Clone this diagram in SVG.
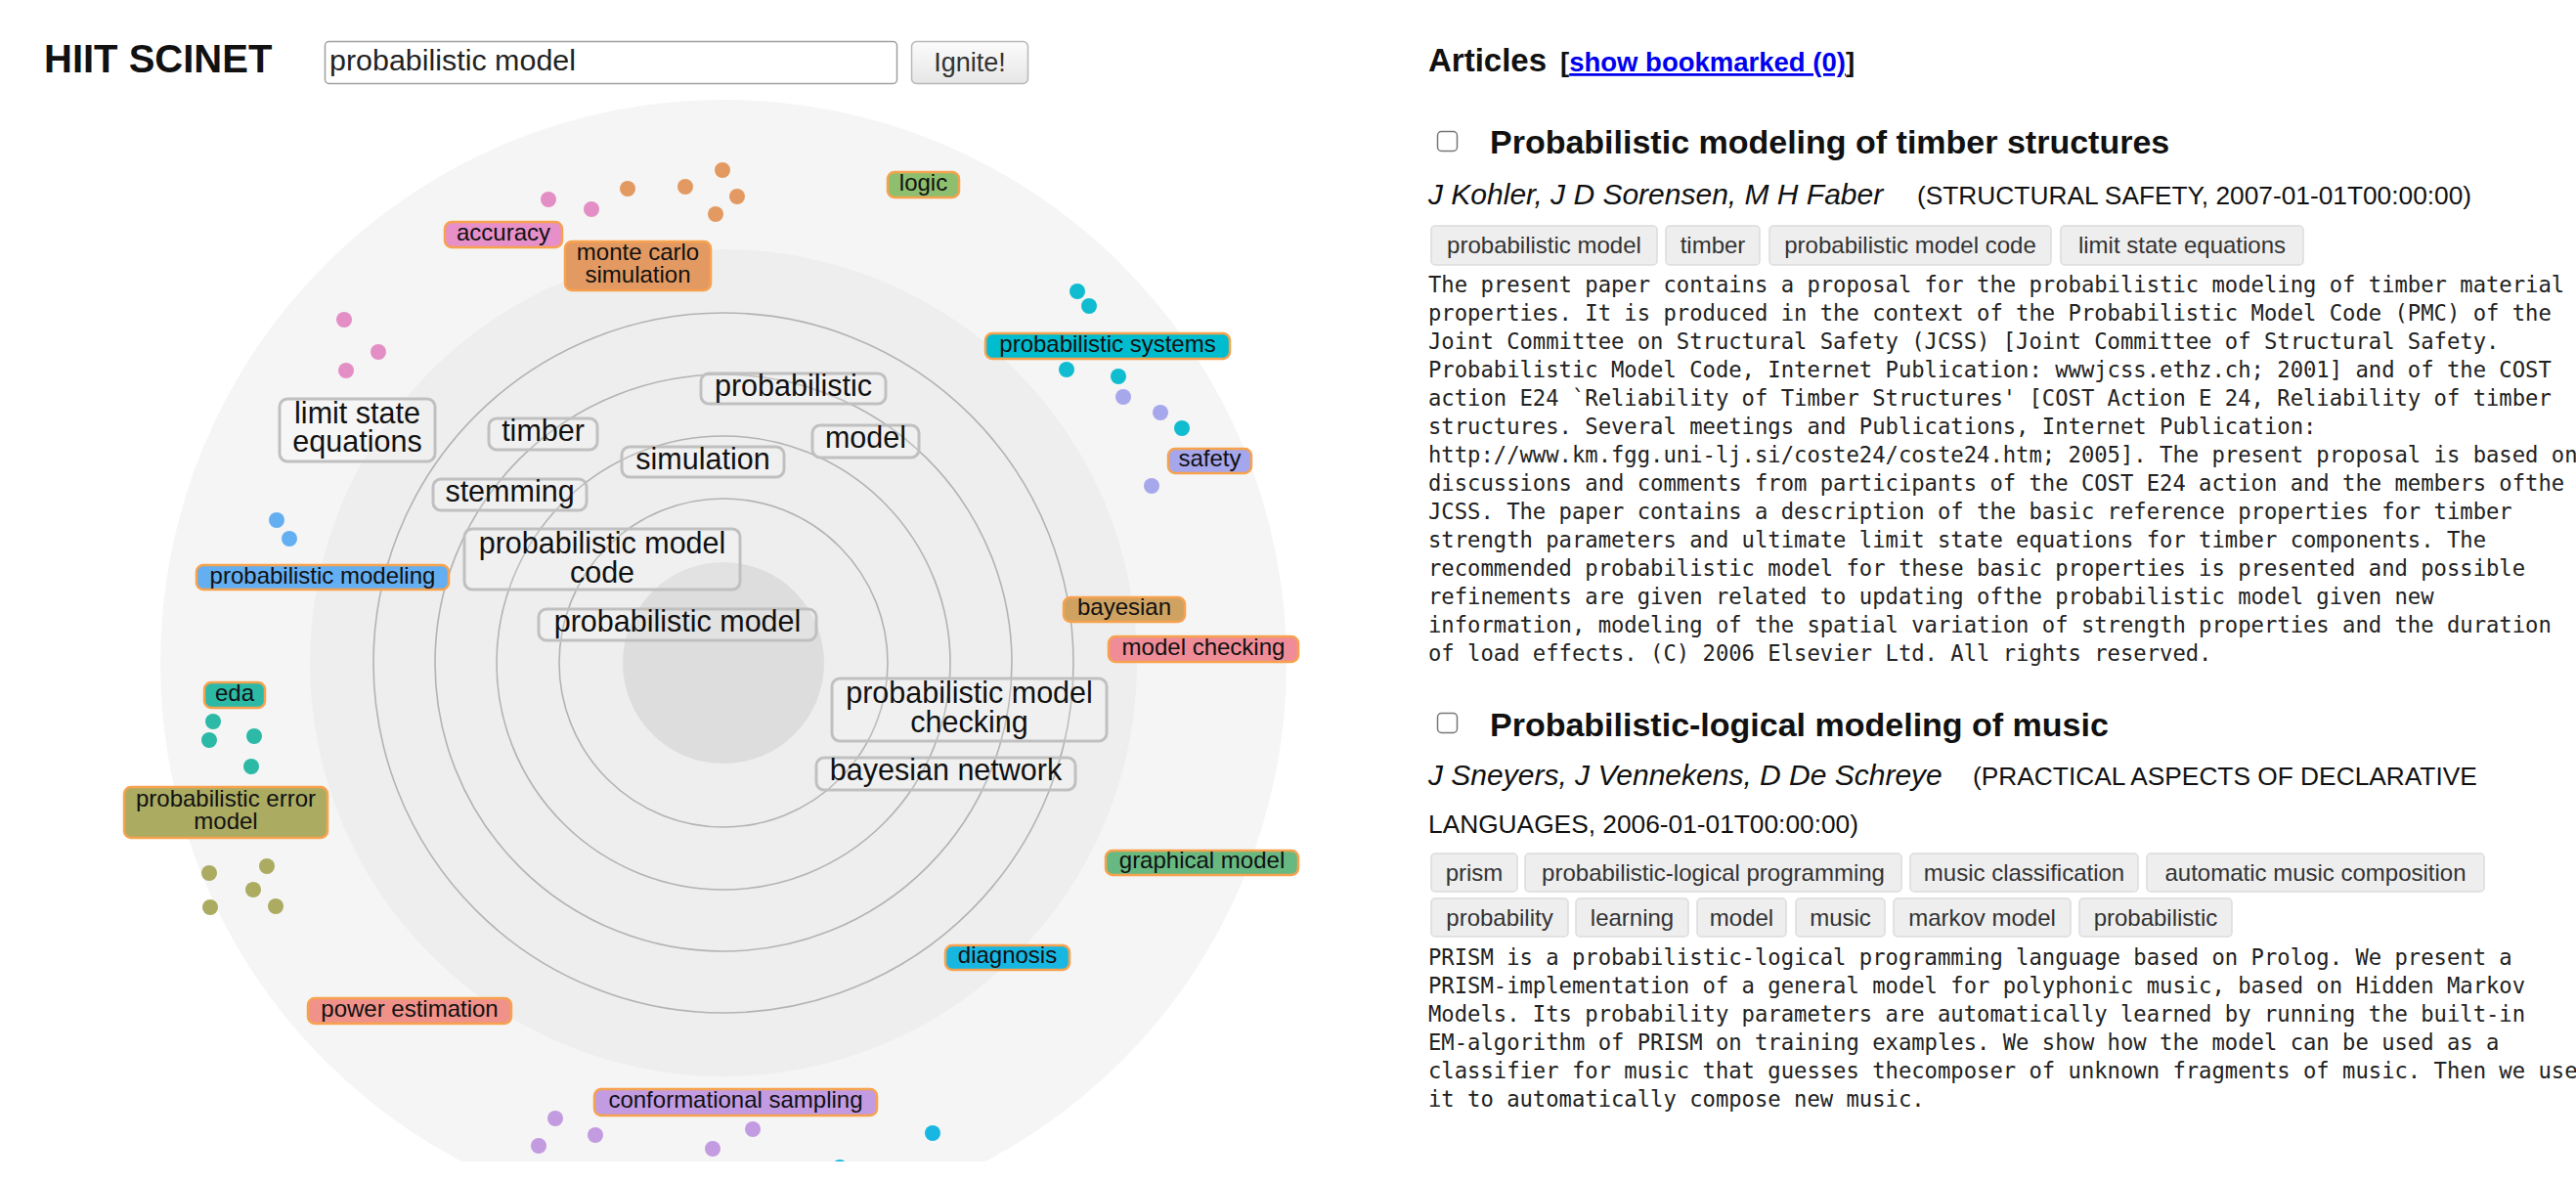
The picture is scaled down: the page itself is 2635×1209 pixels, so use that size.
<svg xmlns="http://www.w3.org/2000/svg" width="2635" height="1209" viewBox="0 0 2635 1209">
<defs>
<clipPath id="radclip"><rect x="0" y="0" width="1440" height="1188"/></clipPath>
<linearGradient id="btn" x1="0" y1="0" x2="0" y2="1"><stop offset="0" stop-color="#fbfbfb"/><stop offset="1" stop-color="#e6e6e6"/></linearGradient>
</defs>
<style>
.sans{font-family:"Liberation Sans",Arial,sans-serif}
.node rect{fill:rgba(255,255,255,0.15);stroke:#c0c0c0;stroke-width:3}
.node text{font-family:"Liberation Sans",Arial,sans-serif;font-size:30.5px;fill:#111;text-anchor:middle}
.lab rect{stroke:#f7a24e;stroke-width:2.5}
.lab text{font-family:"Liberation Sans",Arial,sans-serif;font-size:24px;fill:#111;text-anchor:middle}
.ring{fill:none;stroke:#b3b3b3;stroke-width:1.6}
.tag rect{fill:#eeeeee;stroke:#dcdcdc;stroke-width:1.5}
.tag text{font-family:"Liberation Sans",Arial,sans-serif;font-size:24px;fill:#333;text-anchor:middle}
.abs{font-family:"DejaVu Sans Mono","Liberation Mono",monospace;font-size:22.2px;fill:#222}
.title{font-family:"Liberation Sans",Arial,sans-serif;font-size:34px;font-weight:bold;fill:#111}
.auth{font-family:"Liberation Sans",Arial,sans-serif;font-size:30px;font-style:italic;fill:#111}
.jour{font-family:"Liberation Sans",Arial,sans-serif;font-size:26.3px;fill:#111}
.cb{fill:#fff;stroke:#777;stroke-width:1.5}
</style>
<rect width="2635" height="1209" fill="#ffffff"/>

<!-- header -->
<g id="header">
<text x="45" y="74" class="sans" font-size="40" font-weight="bold" fill="#111">HIIT SCINET</text>
<rect x="332.5" y="42.5" width="585" height="43" rx="4" fill="#fff" stroke="#a0a0a0" stroke-width="1.5"/>
<text x="337" y="72" class="sans" font-size="29" fill="#222" textLength="252" lengthAdjust="spacingAndGlyphs">probabilistic model</text>
<rect x="932.5" y="42.5" width="119" height="43" rx="5" fill="url(#btn)" stroke="#b8b8b8" stroke-width="1.5"/>
<text x="992" y="73" class="sans" font-size="27" fill="#333" text-anchor="middle">Ignite!</text>
</g>

<!-- radial diagram -->
<g id="radial" clip-path="url(#radclip)">
<circle cx="740" cy="678" r="576" fill="#f5f5f5"/>
<circle cx="740" cy="678" r="423" fill="#eeeeee"/>
<circle cx="740" cy="678" r="103" fill="#dddddd"/>
<circle class="ring" cx="740" cy="678" r="168"/>
<circle class="ring" cx="740" cy="678" r="232"/>
<circle class="ring" cx="740" cy="678" r="295"/>
<circle class="ring" cx="740" cy="678" r="358"/>

<g id="dots">
<g fill="#e48ec6"><circle cx="561" cy="204" r="8"/><circle cx="605" cy="214" r="8"/><circle cx="352" cy="327" r="8"/><circle cx="387" cy="360" r="8"/><circle cx="354" cy="379" r="8"/></g>
<g fill="#e39a62"><circle cx="642" cy="193" r="8"/><circle cx="701" cy="191" r="8"/><circle cx="739" cy="174" r="8"/><circle cx="754" cy="201" r="8"/><circle cx="732" cy="219" r="8"/></g>
<g fill="#10bdd0"><circle cx="1102" cy="298" r="8"/><circle cx="1114" cy="313" r="8"/><circle cx="1091" cy="378" r="8"/><circle cx="1144" cy="385" r="8"/><circle cx="1209" cy="438" r="8"/></g>
<g fill="#a7a7ec"><circle cx="1149" cy="406" r="8"/><circle cx="1187" cy="422" r="8"/><circle cx="1178" cy="497" r="8"/></g>
<g fill="#64aef2"><circle cx="283" cy="532" r="8"/><circle cx="296" cy="551" r="8"/></g>
<g fill="#2cb9a6"><circle cx="218" cy="738" r="8"/><circle cx="214" cy="757" r="8"/><circle cx="260" cy="753" r="8"/><circle cx="257" cy="784" r="8"/></g>
<g fill="#abab62"><circle cx="273" cy="886" r="8"/><circle cx="214" cy="893" r="8"/><circle cx="259" cy="910" r="8"/><circle cx="215" cy="928" r="8"/><circle cx="282" cy="927" r="8"/></g>
<g fill="#c39be0"><circle cx="568" cy="1144" r="8"/><circle cx="609" cy="1161" r="8"/><circle cx="551" cy="1172" r="8"/><circle cx="770" cy="1155" r="8"/><circle cx="729" cy="1175" r="8"/></g>
<g fill="#17b7e2"><circle cx="954" cy="1159" r="8"/><circle cx="859" cy="1194" r="8"/></g>
</g>

<g id="connectors"/>

<!-- gray nodes -->
<g id="n-probabilistic" class="node"><rect x="717" y="382" width="189" height="31" rx="8"/><text x="811.5" y="405">probabilistic</text></g>
<g id="n-model" class="node"><rect x="831" y="435" width="109" height="33" rx="8"/><text x="885.5" y="458">model</text></g>
<g id="n-simulation" class="node"><rect x="636" y="457" width="166" height="31" rx="8"/><text x="719" y="480">simulation</text></g>
<g id="n-stemming" class="node"><rect x="443" y="490" width="157" height="32" rx="8"/><text x="521.5" y="513">stemming</text></g>
<g id="n-timber" class="node"><rect x="500" y="428" width="111" height="32" rx="8"/><text x="555.5" y="451">timber</text></g>
<g id="n-limit-state" class="node"><rect x="286" y="408" width="159" height="64" rx="8"/><text x="365.5" y="433">limit state</text><text x="365.5" y="462">equations</text></g>
<g id="n-pm-code" class="node"><rect x="475" y="541" width="282" height="62" rx="8"/><text x="616" y="566">probabilistic model</text><text x="616" y="596">code</text></g>
<g id="n-pm" class="node"><rect x="551" y="623" width="284" height="32" rx="8"/><text x="693" y="646">probabilistic model</text></g>
<g id="n-pm-checking" class="node"><rect x="851" y="694" width="281" height="64" rx="8"/><text x="991.5" y="719">probabilistic model</text><text x="991.5" y="749">checking</text></g>
<g id="n-bayesian-network" class="node"><rect x="835" y="775" width="265" height="33" rx="8"/><text x="967.5" y="798">bayesian network</text></g>

<!-- colored labels -->
<g id="l-accuracy" class="lab"><rect x="455" y="227" width="120" height="26" rx="7" fill="#e68fc9"/><text x="515" y="246">accuracy</text></g>
<g id="l-monte-carlo" class="lab"><rect x="578" y="247" width="149" height="50" rx="7" fill="#e39a62"/><text x="652.5" y="266">monte carlo</text><text x="652.5" y="289">simulation</text></g>
<g id="l-logic" class="lab"><rect x="908" y="176" width="73" height="26" rx="7" fill="#8dbf6e"/><text x="944.5" y="195">logic</text></g>
<g id="l-prob-systems" class="lab"><rect x="1008" y="341" width="250" height="26" rx="7" fill="#00bccf"/><text x="1133" y="360">probabilistic systems</text></g>
<g id="l-safety" class="lab"><rect x="1195" y="459" width="85" height="25" rx="7" fill="#a6a6ec"/><text x="1237.5" y="477">safety</text></g>
<g id="l-bayesian" class="lab"><rect x="1088" y="611" width="124" height="25" rx="7" fill="#cfa262"/><text x="1150" y="629">bayesian</text></g>
<g id="l-model-checking" class="lab"><rect x="1134" y="651" width="194" height="26" rx="7" fill="#f08c98"/><text x="1231" y="670">model checking</text></g>
<g id="l-graphical-model" class="lab"><rect x="1131" y="870" width="197" height="25" rx="7" fill="#67b981"/><text x="1229.5" y="888">graphical model</text></g>
<g id="l-diagnosis" class="lab"><rect x="967" y="967" width="127" height="25" rx="7" fill="#17b7e2"/><text x="1030.5" y="985">diagnosis</text></g>
<g id="l-conformational" class="lab"><rect x="608" y="1114" width="289" height="27" rx="7" fill="#c29be2"/><text x="752.5" y="1133">conformational sampling</text></g>
<g id="l-power" class="lab"><rect x="315" y="1021" width="208" height="26" rx="7" fill="#f0928a"/><text x="419" y="1040">power estimation</text></g>
<g id="l-prob-error" class="lab"><rect x="127" y="805" width="208" height="52" rx="7" fill="#abab62"/><text x="231" y="825">probabilistic error</text><text x="231" y="848">model</text></g>
<g id="l-eda" class="lab"><rect x="209" y="698" width="62" height="26" rx="7" fill="#2cb9a6"/><text x="240" y="717">eda</text></g>
<g id="l-prob-modeling" class="lab"><rect x="201" y="578" width="258" height="25" rx="7" fill="#64aef2"/><text x="330" y="597">probabilistic modeling</text></g>
</g>

<!-- articles panel -->
<g id="articles-header">
<text x="1461" y="73" class="sans" font-size="33" font-weight="bold" fill="#111">Articles</text>
<text x="1596" y="73" class="sans" font-size="27.5" font-weight="bold" fill="#111">[<tspan fill="#0000ee" text-decoration="underline">show bookmarked (0)</tspan>]</text>
</g>

<g id="article-1">
<rect class="cb" x="1470.5" y="134.5" width="20" height="20" rx="4"/>
<text class="title" x="1524" y="157">Probabilistic modeling of timber structures</text>
<text class="auth" x="1461" y="209">J Kohler, J D Sorensen, M H Faber</text>
<text class="jour" x="1961" y="209">(STRUCTURAL SAFETY, 2007-01-01T00:00:00)</text>
<g class="tag"><rect x="1464" y="231" width="231" height="40" rx="4"/><text x="1579.5" y="259">probabilistic model</text></g>
<g class="tag"><rect x="1704" y="231" width="96" height="40" rx="4"/><text x="1752" y="259">timber</text></g>
<g class="tag"><rect x="1810" y="231" width="288" height="40" rx="4"/><text x="1954" y="259">probabilistic model code</text></g>
<g class="tag"><rect x="2108" y="231" width="248" height="40" rx="4"/><text x="2232" y="259">limit state equations</text></g>
<text class="abs" x="1461" y="299">The present paper contains a proposal for the probabilistic modeling of timber material</text>
<text class="abs" x="1461" y="328">properties. It is produced in the context of the Probabilistic Model Code (PMC) of the</text>
<text class="abs" x="1461" y="357">Joint Committee on Structural Safety (JCSS) [Joint Committee of Structural Safety.</text>
<text class="abs" x="1461" y="386">Probabilistic Model Code, Internet Publication: wwwjcss.ethz.ch; 2001] and of the COST</text>
<text class="abs" x="1461" y="415">action E24 `Reliability of Timber Structures' [COST Action E 24, Reliability of timber</text>
<text class="abs" x="1461" y="444">structures. Several meetings and Publications, Internet Publication:</text>
<text class="abs" x="1461" y="473">http://www.km.fgg.uni-lj.si/coste24/coste24.htm; 2005]. The present proposal is based on</text>
<text class="abs" x="1461" y="502">discussions and comments from participants of the COST E24 action and the members ofthe</text>
<text class="abs" x="1461" y="531">JCSS. The paper contains a description of the basic reference properties for timber</text>
<text class="abs" x="1461" y="560">strength parameters and ultimate limit state equations for timber components. The</text>
<text class="abs" x="1461" y="589">recommended probabilistic model for these basic properties is presented and possible</text>
<text class="abs" x="1461" y="618">refinements are given related to updating ofthe probabilistic model given new</text>
<text class="abs" x="1461" y="647">information, modeling of the spatial variation of strength properties and the duration</text>
<text class="abs" x="1461" y="676">of load effects. (C) 2006 Elsevier Ltd. All rights reserved.</text>
</g>

<g id="article-2">
<rect class="cb" x="1470.5" y="729.5" width="20" height="20" rx="4"/>
<text class="title" x="1524" y="753">Probabilistic-logical modeling of music</text>
<text class="auth" x="1461" y="803">J Sneyers, J Vennekens, D De Schreye</text>
<text class="jour" x="2018" y="803">(PRACTICAL ASPECTS OF DECLARATIVE</text>
<text class="jour" x="1461" y="852">LANGUAGES, 2006-01-01T00:00:00)</text>
<g class="tag"><rect x="1464" y="873" width="88" height="39" rx="4"/><text x="1508" y="901">prism</text></g>
<g class="tag"><rect x="1560" y="873" width="385" height="39" rx="4"/><text x="1752.5" y="901">probabilistic-logical programming</text></g>
<g class="tag"><rect x="1954" y="873" width="233" height="39" rx="4"/><text x="2070.5" y="901">music classification</text></g>
<g class="tag"><rect x="2196" y="873" width="345" height="39" rx="4"/><text x="2368.5" y="901">automatic music composition</text></g>
<g class="tag"><rect x="1464" y="919" width="140" height="39" rx="4"/><text x="1534" y="947">probability</text></g>
<g class="tag"><rect x="1612" y="919" width="115" height="39" rx="4"/><text x="1669.5" y="947">learning</text></g>
<g class="tag"><rect x="1736" y="919" width="91" height="39" rx="4"/><text x="1781.5" y="947">model</text></g>
<g class="tag"><rect x="1837" y="919" width="91" height="39" rx="4"/><text x="1882.5" y="947">music</text></g>
<g class="tag"><rect x="1937" y="919" width="181" height="39" rx="4"/><text x="2027.5" y="947">markov model</text></g>
<g class="tag"><rect x="2127" y="919" width="156" height="39" rx="4"/><text x="2205" y="947">probabilistic</text></g>
<text class="abs" x="1461" y="987">PRISM is a probabilistic-logical programming language based on Prolog. We present a</text>
<text class="abs" x="1461" y="1016">PRISM-implementation of a general model for polyphonic music, based on Hidden Markov</text>
<text class="abs" x="1461" y="1045">Models. Its probability parameters are automatically learned by running the built-in</text>
<text class="abs" x="1461" y="1074">EM-algorithm of PRISM on training examples. We show how the model can be used as a</text>
<text class="abs" x="1461" y="1103">classifier for music that guesses thecomposer of unknown fragments of music. Then we use</text>
<text class="abs" x="1461" y="1132">it to automatically compose new music.</text>
</g>
</svg>
